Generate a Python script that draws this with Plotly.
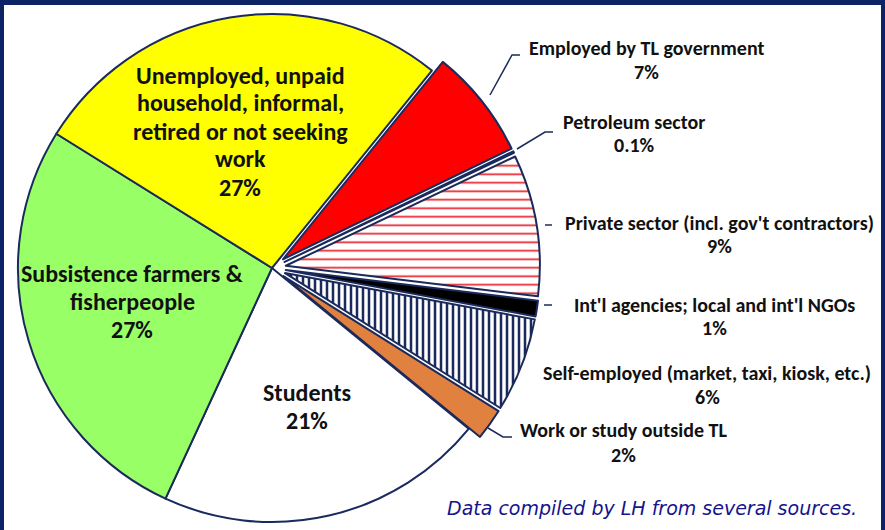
import plotly.graph_objects as go

W, H = 885, 536  # page window is 530 tall; the extra 6 px fall below the fold

# ---- data ----
categories = [
    "Employed by TL government",
    "Petroleum sector",
    "Private sector (incl. gov't contractors)",
    "Int'l agencies; local and int'l NGOs",
    "Self-employed (market, taxi, kiosk, etc.)",
    "Work or study outside TL",
    "Students",
    "Subsistence farmers & fisherpeople",
    "Unemployed, unpaid household, informal, retired or not seeking work",
]
values = [7, 0.1, 9, 1, 6, 2, 21, 27, 27]
pct_labels = ["7%", "0.1%", "9%", "1%", "6%", "2%", "21%", "27%", "27%"]
inside_lines = {
    6: ["Students"],
    7: ["Subsistence farmers &", "fisherpeople"],
    8: ["Unemployed, unpaid", "household, informal,", "retired or not seeking", "work"],
}
source_note = "Data compiled by LH from several sources."

# ---- styles ----
NAVY = "#1b2a5c"
BORDER = "#0c2466"
slice_colors = ["#ff0000", "#ffffff", "#ffffff", "#000000", "#ffffff",
                "#e0813f", "#ffffff", "#99ff66", "#ffff00"]
pat_shapes = ["", "", "-", "", "|", "", "", "", ""]
pat_fg = ["#ff0000", "#ffffff", "#e8202a", "#000000", NAVY,
          "#e0813f", "#ffffff", "#99ff66", "#ffff00"]
pat_size = [8, 8, 8.5, 8, 6, 8, 8, 8, 8]
pat_sol = [0.3, 0.3, 0.2, 0.3, 0.42, 0.3, 0.3, 0.3, 0.3]
pulls = [0.055, 0.055, 0.055, 0.055, 0.055, 0.055, 0, 0, 0]

FONT = "Carlito, Lato, 'Liberation Sans', sans-serif"

fig = go.Figure()
fig.add_trace(go.Pie(
    labels=categories,
    values=values,
    sort=False,
    direction="clockwise",
    rotation=39,
    pull=pulls,
    textinfo="none",
    hoverinfo="label+percent",
    showlegend=False,
    marker=dict(
        colors=slice_colors,
        line=dict(color=NAVY, width=2),
        pattern=dict(shape=pat_shapes, fgcolor=pat_fg, size=pat_size,
                     solidity=pat_sol),
    ),
    domain=dict(x=[0, 544 / W], y=[0, 1]),
))


def px(x):
    return x / W


def py(y):
    return 1 - y / H


def label(text, x, y, size, anchor="center", family=FONT, color="#111111",
          weight="bold"):
    return dict(x=px(x), y=py(y), xref="paper", yref="paper", text=text,
                showarrow=False, xanchor=anchor, yanchor="middle",
                font=dict(family=family, size=size, color=color, weight=weight))


annotations = []
# outside labels: (center x, name line y, percent line y) in pixels
out_pos = {
    0: (646, 48, 72),
    1: (634, 122, 145),
    2: (719, 223, 246),
    3: (714, 305, 328),
    4: (707, 373, 397),
    5: (623, 430, 455),
}
for i, (cx, y1, y2) in out_pos.items():
    annotations.append(label(categories[i], cx, y1, 20))
    annotations.append(label(pct_labels[i], cx, y2, 20))

# inside labels: (center x, first line y), 28 px line step
in_pos = {6: (307, 392), 7: (132, 273), 8: (240, 75)}
for i, (cx, y0) in in_pos.items():
    lines = inside_lines[i] + [pct_labels[i]]
    for k, t in enumerate(lines):
        annotations.append(label(t, cx, y0 + 28 * k, 24))

annotations.append(label("<i>" + source_note + "</i>", 859, 508, 19,
                         anchor="right",
                         family="'DejaVu Sans', Verdana, sans-serif",
                         color="#14148c", weight="normal"))

# leader lines (pixel paths)
leaders = [
    [(490, 95), (512, 55), (520, 55)],
    [(517, 149), (545, 132), (553, 132)],
    [(545, 225), (552, 225)],
    [(544, 305), (552, 305)],
    [(488, 428), (503, 437), (512, 437)],
]
shapes = []
for pts in leaders:
    path = "M " + " L ".join(f"{px(x):.5f},{py(y):.5f}" for x, y in pts)
    shapes.append(dict(type="path", xref="paper", yref="paper", path=path,
                       line=dict(color=NAVY, width=1.5)))

# frame (left, top, right)
shapes += [
    dict(type="rect", xref="paper", yref="paper", x0=0, x1=px(4), y0=0, y1=1,
         fillcolor=BORDER, line=dict(width=0)),
    dict(type="rect", xref="paper", yref="paper", x0=0, x1=1, y0=py(5), y1=1,
         fillcolor=BORDER, line=dict(width=0)),
    dict(type="rect", xref="paper", yref="paper", x0=px(881), x1=1, y0=0, y1=1,
         fillcolor=BORDER, line=dict(width=0)),
]

fig.update_layout(
    width=W, height=H,
    margin=dict(l=0, r=0, t=0, b=0),
    paper_bgcolor="white",
    plot_bgcolor="white",
    annotations=annotations,
    shapes=shapes,
    showlegend=False,
)

fig.write_html(
    "out.html",
    config={"displayModeBar": False},
    post_script=(
        "document.body.style.margin='0';"
        "document.body.style.padding='0';"
        "document.body.style.overflow='hidden';"
        "document.documentElement.style.overflow='hidden';"
    ),
)
